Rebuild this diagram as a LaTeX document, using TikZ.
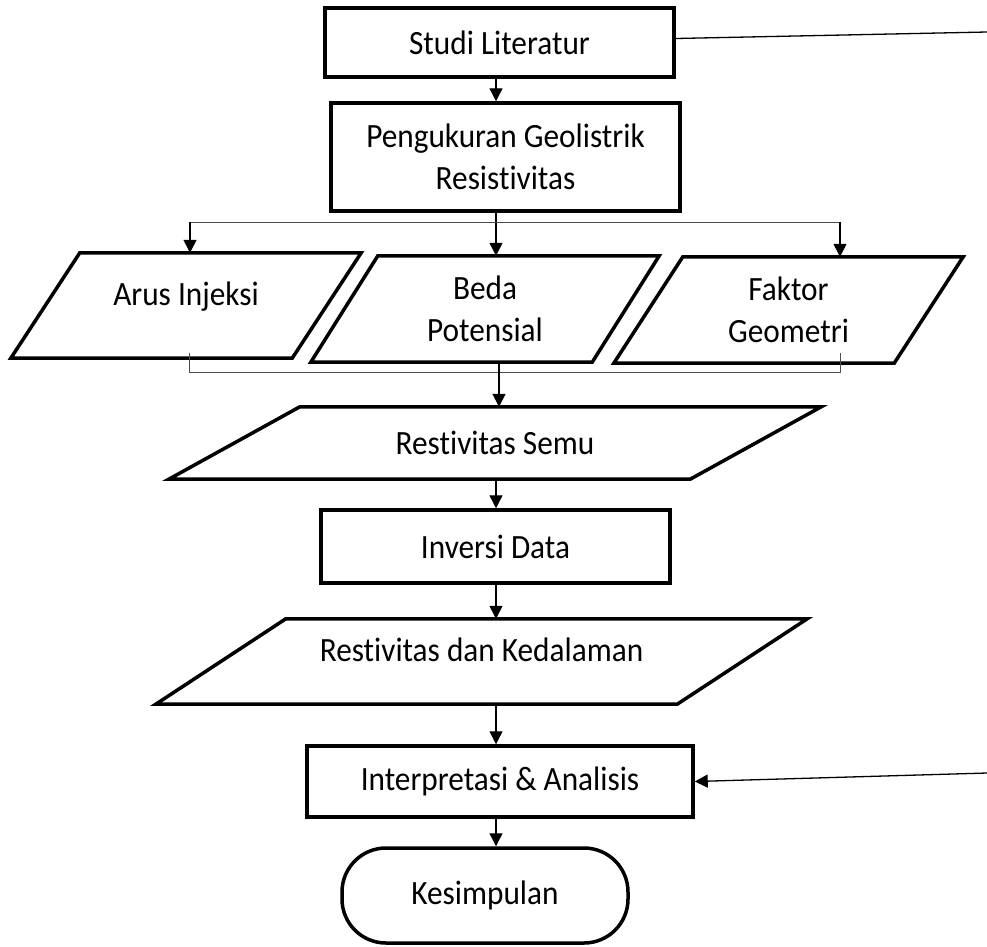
\documentclass[tikz,border=0pt]{standalone}
\usepackage{fontspec}
\setmainfont{Carlito}[FakeStretch=0.92, Ligatures=NoCommon]
\usetikzlibrary{arrows.meta, positioning}

\tikzset{
  proses/.style={draw, rectangle, line width=3.5pt, inner sep=2pt, align=center},
  data/.style={rectangle, inner sep=2pt, align=center},
  garisdata/.style={line width=3.5pt, line join=miter},
  terminal/.style={draw, rectangle, rounded corners=44pt, line width=3.5pt, inner sep=2pt},
  arr/.style={-{Triangle[length=13pt, width=13pt]}, line width=1.3pt},
  cabang/.style={line width=1pt, black!70},
}
% jajaran genjang di sekeliling node data
\newcommand{\jajar}[2]{\draw[garisdata] (#1.north west) -- ([xshift=#2]#1.north east) -- (#1.south east) -- ([xshift=-#2]#1.south west) -- cycle;}

\begin{document}
\begin{tikzpicture}[x=1pt, y=-1pt, font=\fontsize{34pt}{42pt}\selectfont]
    \useasboundingbox (0,0) rectangle (987,946);

    \node[proses, minimum width=349pt, minimum height=69pt] (studi) at (499.5,42.5) {Studi Literatur};
    \node[proses, minimum width=349pt, minimum height=108pt, node distance=114.5pt, below of=studi, xshift=6pt] (ukur) {Pengukuran Geolistrik\\Resistivitas};

    % baris data masukan
    \node[data, minimum width=214pt, minimum height=106pt, node distance=152pt, below of=ukur, xshift=-20.5pt] (beda) {Beda\\Potensial};
    \node[data, minimum width=212pt, minimum height=105pt, text depth=23pt, node distance=299pt, left of=beda, yshift=3.5pt] (arus) {Arus Injeksi};
    \node[data, minimum width=211pt, minimum height=106pt, node distance=303.5pt, right of=beda, yshift=-1pt] (faktor) {Faktor\\Geometri};
    \jajar{beda}{67pt}
    \jajar{arus}{69pt}
    \jajar{faktor}{69pt}

    \node[data, minimum width=390pt, minimum height=72pt, node distance=134pt, below of=beda, xshift=10pt] (semu) {Restivitas Semu};
    \jajar{semu}{131pt}
    \node[proses, minimum width=349pt, minimum height=73pt, node distance=103.5pt, below of=semu, xshift=0.5pt] (inversi) {Inversi Data};
    \node[data, minimum width=391pt, minimum height=85pt, text depth=23pt, node distance=115pt, below of=inversi, xshift=-14pt] (kedalaman) {Restivitas dan Kedalaman};
    \jajar{kedalaman}{130pt}
    \node[proses, minimum width=386pt, minimum height=71pt, node distance=120pt, below of=kedalaman, xshift=18.5pt] (interp) {Interpretasi \& Analisis};
    \node[terminal, minimum width=286pt, minimum height=95pt, node distance=114pt, below of=interp, xshift=-15pt] (simpul) {Kesimpulan};

    % garis bantu
    \coordinate (poros) at (496,0);
    \coordinate (cabKiri) at (190,222);
    \coordinate (cabKanan) at (840,222);
    \coordinate (kurKiri) at (189,372);
    \coordinate (kurKanan) at (840,372);
    \coordinate (sisiAtas) at (987,32);
    \coordinate (sisiBawah) at (987,773);

    \draw[arr] (poros |- studi.south) -- (poros |- ukur.north);
    \draw[arr] (poros |- ukur.south) -- (poros |- beda.north);
    \draw[cabang] (cabKiri) -- (cabKanan);
    \draw[arr] (cabKiri) -- (cabKiri |- arus.north);
    \draw[arr] (cabKanan) -- (cabKanan |- faktor.north);

    \draw[cabang] (kurKiri) ++(0,-19) -- (kurKiri) -- (kurKanan) -- ++(0,-19);
    \draw[arr] ([xshift=3pt]poros |- beda.south) -- ([xshift=3pt]poros |- semu.north);
    \draw[arr] (poros |- semu.south) -- (poros |- inversi.north);
    \draw[arr] (poros |- inversi.south) -- (poros |- kedalaman.north);
    \draw[arr] (poros |- kedalaman.south) -- (poros |- interp.north);
    \draw[arr] (poros |- interp.south) -- (poros |- simpul.north);

    \draw[line width=1.3pt] ([yshift=4pt]studi.east) -- (sisiAtas);
    \draw[arr] (sisiBawah) -- (interp.east);
\end{tikzpicture}
\end{document}
